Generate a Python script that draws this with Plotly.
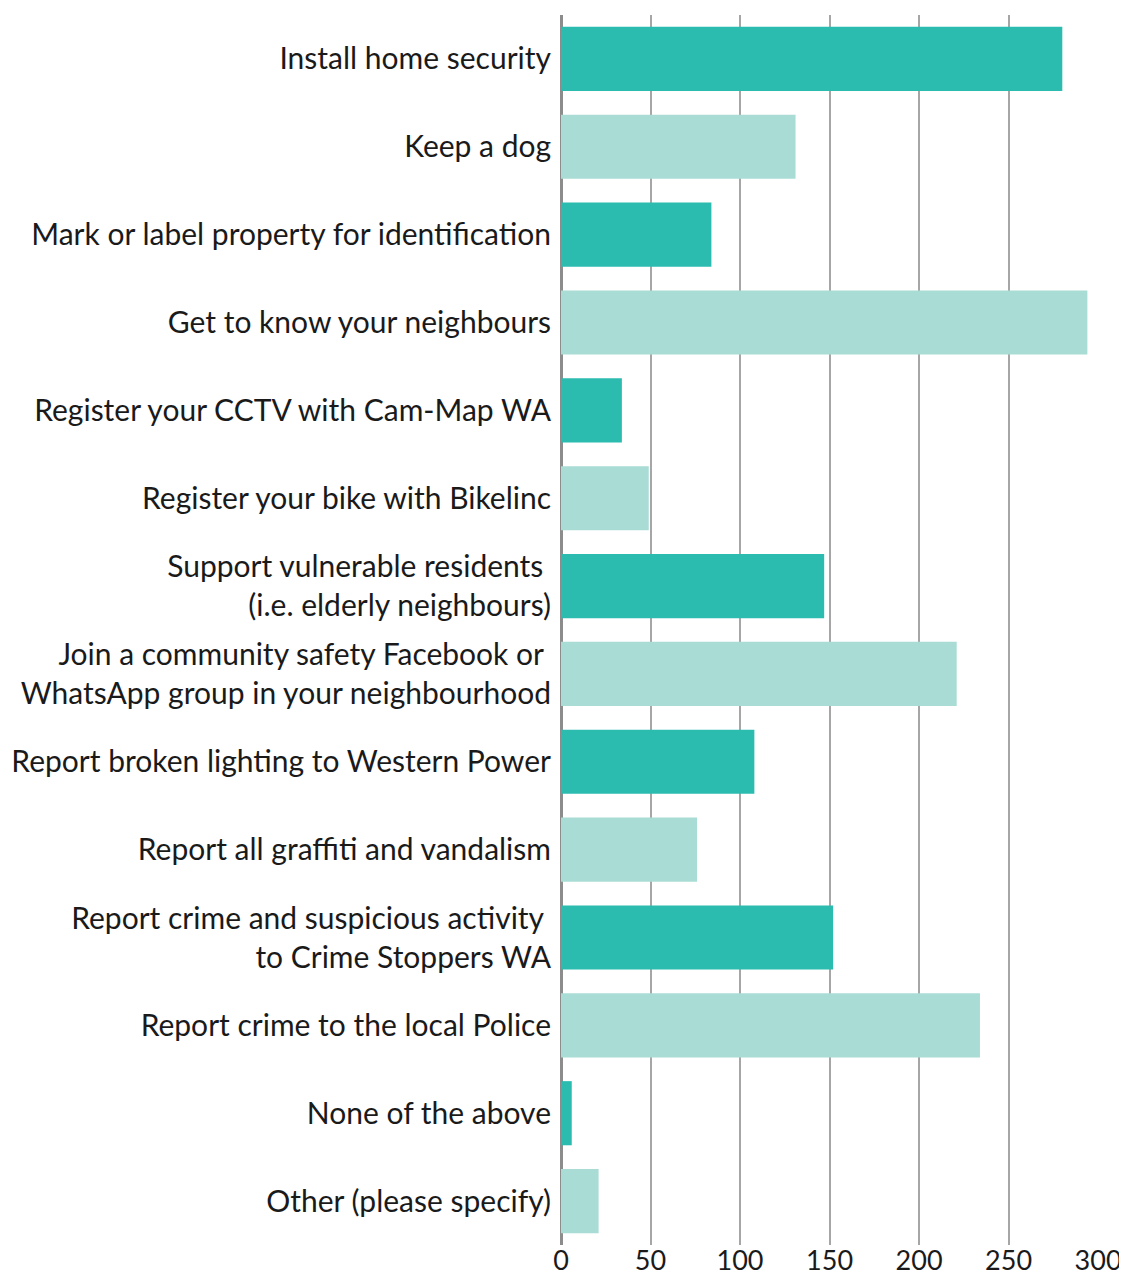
import plotly.graph_objects as go

categories = [
    "Install home security",
    "Keep a dog",
    "Mark or label property for identification",
    "Get to know your neighbours",
    "Register your CCTV with Cam-Map WA",
    "Register your bike with Bikelinc",
    "Support vulnerable residents <br>(i.e. elderly neighbours)",
    "Join a community safety Facebook or <br>WhatsApp group in your neighbourhood",
    "Report broken lighting to Western Power",
    "Report all graffiti and vandalism",
    "Report crime and suspicious activity <br>to Crime Stoppers WA",
    "Report crime to the local Police",
    "None of the above",
    "Other (please specify)",
]
values = [280, 131, 84, 294, 34, 49, 147, 221, 108, 76, 152, 234, 6, 21]
tick_vals = [0, 50, 100, 150, 200, 250, 300]

dark = "#2BBBAF"
light = "#A8DCD4"
colors = [dark if i % 2 == 0 else light for i in range(len(values))]

fig = go.Figure(go.Bar(
    y=categories, x=values, orientation="h",
    marker=dict(color=colors, line=dict(width=0)),
))

font_family = "Source Sans Pro, Lato, Noto Sans, sans-serif"
fig.update_layout(
    width=1119, height=1268,
    margin=dict(l=553, r=28, t=7, b=31),
    paper_bgcolor="white", plot_bgcolor="white",
    bargap=0.27,
    showlegend=False,
    font=dict(family=font_family, size=30, color="#1a1a1a"),
)
fig.update_xaxes(
    range=[0, 300.5], tickvals=tick_vals, ticktext=[str(v) for v in tick_vals],
    showgrid=True, gridcolor="#a6a6a6", gridwidth=2,
    zeroline=True, zerolinecolor="#8c8c8c", zerolinewidth=3,
    showline=False, ticks="", fixedrange=True, automargin=False,
    ticklabeloverflow="allow",
    tickfont=dict(size=27, family=font_family, color="#1a1a1a"),
    ticklabelstandoff=-3,
)
fig.update_yaxes(
    autorange="reversed", showgrid=False, ticks="", showline=False,
    automargin=False,
    tickfont=dict(size=30, family=font_family, color="#1a1a1a"),
    ticklabelstandoff=9,
)
fig.write_html("out.html")
